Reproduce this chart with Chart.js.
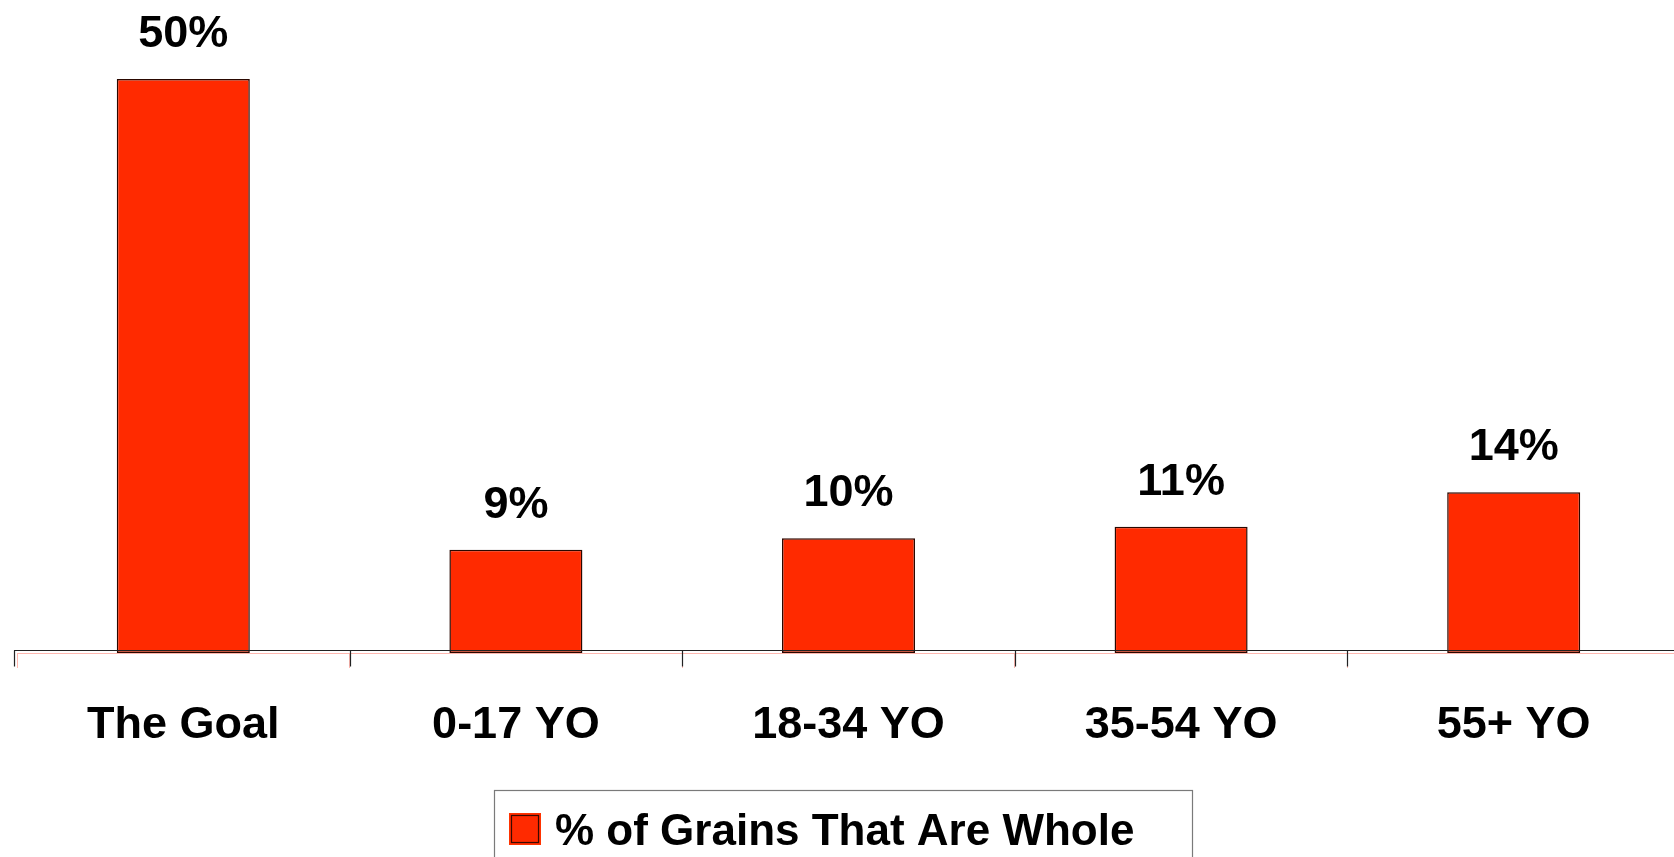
<!DOCTYPE html>
<html>
<head>
<meta charset="utf-8">
<title>% of Grains That Are Whole</title>
<script src="https://cdn.jsdelivr.net/npm/chart.js@4/dist/chart.umd.min.js"></script>
<style>
  html, body { margin: 0; padding: 0; background: #ffffff; overflow: hidden; width: 1674px; height: 857px; }
  canvas { display: block; }
</style>
</head>
<body>
<canvas id="chart" width="1700" height="857"></canvas>
<script>
// Share of grains eaten that are whole grains, by age group, against the goal
const categories = ['The Goal', '0-17 YO', '18-34 YO', '35-54 YO', '55+ YO'];
const wholeShare = [50, 9, 10, 11, 14];
const seriesName = '% of Grains That Are Whole';

const FONT = '"Liberation Sans", Arial, Helvetica, sans-serif';
const BAR_FILL = '#ff2a00';
const BAR_EDGE = '#2a0800';

// Percentage labels above each bar
const valueLabels = {
  id: 'valueLabels',
  afterDatasetsDraw(chart) {
    const ctx = chart.ctx;
    const meta = chart.getDatasetMeta(0);
    ctx.save();
    ctx.font = 'bold 45px ' + FONT;
    ctx.fillStyle = '#000000';
    ctx.textAlign = 'center';
    ctx.textBaseline = 'alphabetic';
    meta.data.forEach((bar, i) => {
      ctx.fillText(wholeShare[i] + '%', bar.x, bar.y - 32);
    });
    ctx.restore();
  }
};

// Dark category axis line with boundary ticks, drawn over the bars
const categoryAxisLine = {
  id: 'categoryAxisLine',
  afterDatasetsDraw(chart) {
    const ctx = chart.ctx;
    const area = chart.chartArea;
    const xs = chart.scales.x;
    const y = Math.round(area.bottom - 3.5) + 0.5;
    ctx.save();
    ctx.strokeStyle = '#222222';
    ctx.lineWidth = 1.2;
    ctx.beginPath();
    ctx.moveTo(area.left - 3, y);
    ctx.lineTo(chart.width, y);
    for (let i = 0; i <= categories.length; i++) {
      let x = Math.round(xs.getPixelForValue(i - 0.5)) + 0.5;
      if (i === 0) x -= 3;
      ctx.moveTo(x, y);
      ctx.lineTo(x, y + 16);
    }
    ctx.stroke();
    ctx.restore();
  }
};

// Framed legend below the axis
const framedLegend = {
  id: 'framedLegend',
  afterDraw(chart) {
    const ctx = chart.ctx;
    ctx.save();
    ctx.strokeStyle = '#7a7a7a';
    ctx.lineWidth = 1.2;
    ctx.strokeRect(494.5, 790.5, 698, 90);
    ctx.fillStyle = '#ff3300';
    ctx.fillRect(509, 813, 32, 32);
    ctx.fillStyle = BAR_FILL;
    ctx.fillRect(510, 814, 30, 30);
    ctx.strokeStyle = '#3a0a00';
    ctx.lineWidth = 1.2;
    ctx.strokeRect(511.5, 815.5, 27, 27);
    ctx.font = 'bold 44px ' + FONT;
    ctx.fillStyle = '#000000';
    ctx.textAlign = 'left';
    ctx.textBaseline = 'alphabetic';
    ctx.fillText(seriesName, 555, 845);
    ctx.restore();
  }
};

new Chart(document.getElementById('chart'), {
  type: 'bar',
  data: {
    labels: categories,
    datasets: [{
      label: seriesName,
      data: wholeShare,
      backgroundColor: BAR_FILL,
      borderColor: BAR_EDGE,
      borderWidth: 1.5,
      borderSkipped: false,
      barPercentage: 0.4,
      categoryPercentage: 1.0
    }]
  },
  options: {
    responsive: false,
    animation: false,
    devicePixelRatio: 1,
    layout: { padding: { left: 17, right: 20, top: 79, bottom: 0 } },
    plugins: {
      legend: { display: false },
      tooltip: { enabled: false },
      title: { display: false }
    },
    scales: {
      x: {
        position: 'bottom',
        offset: true,
        grid: {
          display: true,
          offset: true,
          drawOnChartArea: false,
          drawTicks: true,
          tickLength: 15,
          color: '#ffb8b0',
          lineWidth: 1
        },
        border: { display: true, color: '#ffb8b0', width: 1 },
        ticks: {
          color: '#000000',
          padding: 31,
          maxRotation: 0,
          autoSkip: false,
          font: { family: FONT, size: 45, weight: 'bold' }
        },
        afterFit(scale) { scale.height = 857 - 653; }
      },
      y: {
        display: false,
        min: 0,
        max: 50
      }
    }
  },
  plugins: [valueLabels, categoryAxisLine, framedLegend]
});
</script>
</body>
</html>
